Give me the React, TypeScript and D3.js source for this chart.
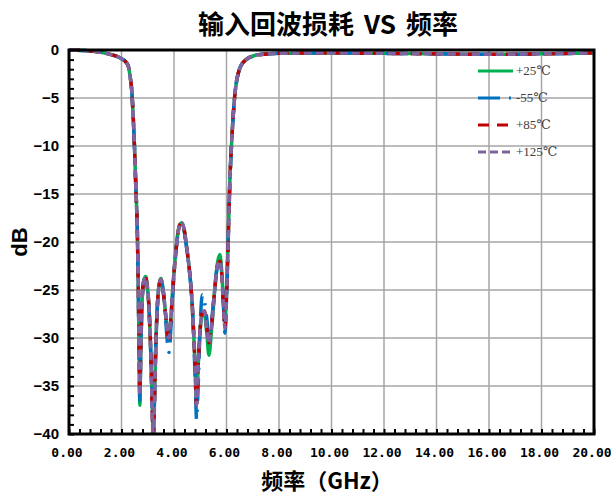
import React, { useRef, useEffect } from 'react';
import * as d3 from 'd3';

// frequency points (GHz) shared by all four temperature curves
const freqGHz = [
  0, 0.5, 1.0, 1.5, 1.8, 2.0, 2.15, 2.26, 2.33, 2.39, 2.45, 2.5, 2.55, 2.6, 2.63, 2.66, 2.68, 2.7,
  2.73, 2.78, 2.85, 2.92, 2.98, 3.05, 3.12, 3.17, 3.21, 3.25, 3.3, 3.38, 3.45, 3.5, 3.58, 3.68,
  3.75, 3.81, 3.88, 3.95, 4.05, 4.15, 4.22, 4.29, 4.38, 4.47, 4.57, 4.67, 4.75, 4.81, 4.86, 4.92,
  5.0, 5.08, 5.16, 5.25, 5.33, 5.42, 5.55, 5.65, 5.75, 5.83, 5.9, 5.94, 6.0, 6.04, 6.08, 6.13,
  6.2, 6.3, 6.45, 6.7, 7.2, 8, 10, 12, 14, 16, 18, 20,
];

const rl25 = [
  0, -0.05, -0.15, -0.4, -0.65, -0.9, -1.2, -1.7, -2.8, -4.2, -7.2, -10.5, -14.6, -18.5, -23, -29, -34, -37,
  -32, -26.5, -24, -23.6, -24.5, -27, -32, -37, -40.5, -37, -31.5, -26, -24.2, -23.8, -24.8, -27.5,
  -29.3, -29.8, -28, -25, -21.5, -19, -18.2, -18, -18.6, -20.3, -22.5, -25.5, -29.5, -33.5, -36.8, -33,
  -29, -27.5, -27.6, -29.5, -31.8, -29.5, -25, -22.3, -21.3, -23.5, -27, -28.3, -25.5, -22, -18, -13.5,
  -9.4, -5.2, -2.4, -1.1, -0.5, -0.35, -0.3, -0.35, -0.4, -0.45, -0.4, -0.3,
];

const rlM55 = [
  0, -0.05, -0.15, -0.4, -0.65, -0.9, -1.2, -1.7, -2.8, -4.2, -7.2, -10.5, -14.6, -18.5, -23, -29, -33.5, -36.5,
  -32, -26.5, -24, -23.8, -24.7, -27, -32, -37, -40.5, -37, -31.5, -26, -24.3, -24, -25, -28,
  -30.5, -31.5, -29, -25.5, -21.8, -19.2, -18.3, -18.1, -18.7, -20.4, -22.6, -25.6, -30, -34.5, -38.5, -35,
  -28.5, -25.5, -26.2, -28, -30, -28.5, -25, -22.6, -22.2, -24, -27.5, -29.5, -26, -22.5, -18.3, -13.6,
  -9.4, -5.2, -2.4, -1.1, -0.5, -0.35, -0.3, -0.35, -0.4, -0.45, -0.4, -0.3,
];

const rl85 = [
  0, -0.05, -0.15, -0.4, -0.65, -0.9, -1.2, -1.7, -2.8, -4.2, -7.2, -10.5, -14.6, -18.5, -23, -29, -33.5, -36,
  -31.5, -26.3, -24, -23.7, -24.6, -27, -32, -37.5, -41, -37.5, -31.5, -26, -24.2, -23.9, -24.9, -27.6,
  -29.5, -30, -28, -25, -21.6, -19.1, -18.2, -18, -18.6, -20.3, -22.5, -25.5, -29.5, -33.5, -37, -33,
  -29, -27.4, -27.2, -29, -30.5, -29, -25, -22.5, -22, -23.8, -27.5, -29, -25.8, -22.2, -18.2, -13.5,
  -9.4, -5.2, -2.4, -1.1, -0.5, -0.35, -0.3, -0.35, -0.4, -0.45, -0.4, -0.3,
];

const rl125 = [
  0, -0.05, -0.15, -0.4, -0.65, -0.9, -1.2, -1.7, -2.8, -4.2, -7.2, -10.5, -14.6, -18.5, -23, -29, -33.5, -36,
  -31.5, -26.3, -24, -23.7, -24.6, -27, -32, -37.5, -41, -37.5, -31.5, -26, -24.2, -23.9, -24.9, -27.6,
  -29.5, -30, -28, -25, -21.6, -19.1, -18.2, -18, -18.6, -20.3, -22.5, -25.5, -29.5, -33.5, -37, -33,
  -29, -27.4, -27.2, -29, -30.5, -29, -25, -22.5, -22, -23.8, -27.5, -29, -25.8, -22.2, -18.2, -13.5,
  -9.4, -5.2, -2.4, -1.1, -0.5, -0.35, -0.3, -0.35, -0.4, -0.45, -0.4, -0.3,
];

const seriesNames = ['+25℃', '-55℃', '+85℃', '+125℃'];
const seriesValues = [rl25, rlM55, rl85, rl125];
const seriesColors = ['#00b050', '#0070c0', '#c00000', '#8064a2'];
const seriesDash = ['none', '22,9,2,9', '11,8', '8,4'];

const xTicks = [0, 2, 4, 6, 8, 10, 12, 14, 16, 18, 20];
const yTicks = [0, -5, -10, -15, -20, -25, -30, -35, -40];

function App() {
  const canvas = useRef(null);

  useEffect(() => {
    const W = 611, H = 497;
    const margin = { top: 50, right: 17, bottom: 63, left: 69 };
    const width = W - margin.left - margin.right;
    const height = H - margin.top - margin.bottom;

    d3.select(canvas.current).select('svg').remove();
    const root = d3.select(canvas.current)
      .append('svg')
      .attr('width', W)
      .attr('height', H)
      .style('position', 'absolute')
      .style('left', 0)
      .style('top', 0)
      .style('background', '#fff');

    root.append('text')
      .attr('x', 328).attr('y', 34)
      .attr('text-anchor', 'middle')
      .style('font-family', '"Noto Sans CJK SC", sans-serif')
      .style('font-weight', 'bold')
      .style('font-size', '26px')
      .style('word-spacing', '4px')
      .text('输入回波损耗 VS 频率');

    const svg = root.append('g').attr('transform', `translate(${margin.left},${margin.top})`);

    const x = d3.scaleLinear().domain([0, 20]).range([0, width]);
    const y = d3.scaleLinear().domain([-40, 0]).range([height, 0]);

    // grid
    svg.append('g').selectAll('line').data(xTicks.slice(1, -1)).enter().append('line')
      .attr('x1', d => x(d)).attr('x2', d => x(d)).attr('y1', 0).attr('y2', height)
      .attr('stroke', '#a6a6a6').attr('stroke-width', 1.5);
    svg.append('g').selectAll('line').data(yTicks.slice(1, -1)).enter().append('line')
      .attr('y1', d => y(d)).attr('y2', d => y(d)).attr('x1', 0).attr('x2', width)
      .attr('stroke', '#a6a6a6').attr('stroke-width', 1.5);

    // inward minor ticks
    svg.append('g')
      .call(d3.axisLeft(y).ticks(40).tickSize(-5).tickFormat(() => ''))
      .call(g => g.select('.domain').remove())
      .selectAll('line').attr('stroke', '#000').attr('stroke-width', 2);
    svg.append('g')
      .attr('transform', `translate(0,${height})`)
      .call(d3.axisBottom(x).tickValues(d3.range(0, 20.01, 0.4)).tickSize(-5).tickFormat(() => ''))
      .call(g => g.select('.domain').remove())
      .selectAll('line').attr('stroke', '#000').attr('stroke-width', 2);

    // curves
    svg.append('clipPath').attr('id', 'plot-clip')
      .append('rect').attr('x', 0).attr('y', -3).attr('width', width).attr('height', height + 3);
    const line = d3.line<number>()
      .x((d, i) => x(freqGHz[i]))
      .y(d => y(d))
      .curve(d3.curveMonotoneX);
    seriesValues.forEach((vals, k) => {
      svg.append('path')
        .datum(vals)
        .attr('clip-path', 'url(#plot-clip)')
        .attr('d', line)
        .attr('fill', 'none')
        .attr('stroke', seriesColors[k])
        .attr('stroke-width', 3.5)
        .attr('stroke-dasharray', seriesDash[k]);
    });

    // frame
    svg.append('rect')
      .attr('x', 0).attr('y', 0).attr('width', width).attr('height', height)
      .attr('fill', 'none').attr('stroke', '#000').attr('stroke-width', 3);

    // tick labels
    svg.append('g').selectAll('text').data(yTicks).enter().append('text')
      .attr('x', -10).attr('y', d => y(d) + 5)
      .attr('text-anchor', 'end')
      .style('font-family', '"Liberation Sans", Arial, sans-serif')
      .style('font-weight', 'bold')
      .style('font-size', '15px')
      .text(d => (d < 0 ? '−' + Math.abs(d) : String(d)));
    svg.append('g').selectAll('text').data(xTicks).enter().append('text')
      .attr('x', d => x(d) - 2).attr('y', height + 23)
      .attr('text-anchor', 'middle')
      .style('font-family', '"DejaVu Sans Mono", monospace')
      .style('font-weight', 'bold')
      .style('font-size', '13px')
      .text(d => d.toFixed(2));

    // axis titles
    root.append('text')
      .attr('transform', 'translate(27,242) rotate(-90)')
      .attr('text-anchor', 'middle')
      .style('font-family', '"Liberation Sans", Arial, sans-serif')
      .style('font-weight', 'bold')
      .style('font-size', '22px')
      .text('dB');
    root.append('text')
      .attr('x', 327).attr('y', 489)
      .attr('text-anchor', 'middle')
      .style('font-family', '"Noto Sans CJK SC", sans-serif')
      .style('font-weight', 'bold')
      .style('font-size', '22px')
      .text('频率（GHz）');

    // legend
    const legend = root.append('g');
    seriesNames.forEach((name, k) => {
      const ly = 71 + k * 27;
      legend.append('line')
        .attr('x1', 478).attr('x2', 513).attr('y1', ly).attr('y2', ly)
        .attr('stroke', seriesColors[k]).attr('stroke-width', 3)
        .attr('stroke-dasharray', seriesDash[k]);
      legend.append('text')
        .attr('x', 516).attr('y', ly + 4)
        .style('font-family', '"Liberation Serif", "DejaVu Serif", serif')
        .style('font-size', '13px')
        .attr('fill', '#404040')
        .text(name);
    });
  }, []);

  return <div ref={canvas}></div>;
}

export default App;
